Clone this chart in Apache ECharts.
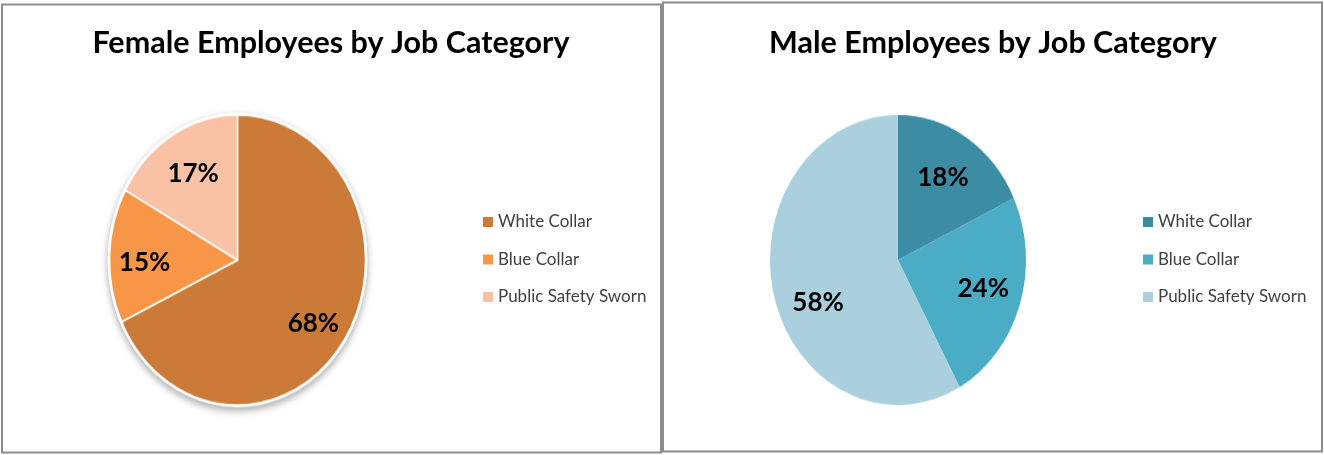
<!DOCTYPE html>
<html><head><meta charset="utf-8">
<script src="https://cdn.jsdelivr.net/npm/echarts@6/dist/echarts.min.js"></script>
<style>
html,body{margin:0;padding:0;background:#fff;}
#wrap{position:relative;width:1324px;height:455px;overflow:hidden;}
#pies,#main{position:absolute;left:0;top:0;width:1324px;height:455px;}
#pies{transform-origin:0 260px;transform:scaleY(1.133);}
</style></head><body>
<div id="wrap"><div id="pies"></div><div id="main"></div></div>
<script>
const categories = ['White Collar', 'Blue Collar', 'Public Safety Sworn'];
const femaleValues = [68, 15, 17];
const maleValues = [18, 24, 58];
const titles = ['Female Employees by Job Category', 'Male Employees by Job Category'];

const femaleColors = ['#CB7A37', '#F79646', '#FAC2A4'];
const maleColors = ['#3C8CA3', '#4BACC6', '#AACFDD'];
const FONT = 'Lato, "Open Sans", sans-serif';

const femaleCenter = [237.5, 260];
const maleCenter = [898, 260];

// ---- pie layer (stretched vertically via CSS to mimic the elliptical pies) ----
const pies = echarts.init(document.getElementById('pies'), null, {renderer: 'canvas'});
pies.setOption({
  animation: false,
  series: [
    {
      type: 'pie', silent: true, center: femaleCenter, radius: 130,
      data: [{value: 1, name: 'bg'}],
      itemStyle: {color: '#ffffff', shadowBlur: 7, shadowOffsetY: 3, shadowColor: 'rgba(0,0,0,0.35)'},
      label: {show: false}, labelLine: {show: false}
    },
    {
      type: 'pie', silent: true, center: femaleCenter, radius: 128, startAngle: 90,
      data: categories.map((n, i) => ({name: n, value: femaleValues[i], itemStyle: {color: femaleColors[i]}})),
      itemStyle: {borderColor: '#ffffff', borderWidth: 1.5},
      label: {show: false}, labelLine: {show: false}
    },
    {
      type: 'pie', silent: true, center: maleCenter, radius: 128, startAngle: 90,
      data: categories.map((n, i) => ({name: n, value: maleValues[i], itemStyle: {color: maleColors[i]}})),
      itemStyle: {borderWidth: 0},
      label: {show: false}, labelLine: {show: false}
    }
  ]
});

// ---- text layer: titles, legends, percentage labels, panel borders ----
// label nudges (style only) to follow the elliptical pie shape
const labelOffsets = {female: [[-6, 11], [4, 5], [5, -4]], male: [[-7, 0], [-7, -1], [14, 19]]};
function labelSeries(center, values, offsets) {
  return {
    type: 'pie', silent: true, center: center, radius: 188, startAngle: 90,
    data: categories.map((n, i) => ({name: n, value: values[i], label: {offset: offsets[i]}})),
    itemStyle: {color: 'rgba(0,0,0,0)'},
    label: {
      show: true, position: 'inside', formatter: p => p.value + '%',
      fontFamily: FONT, fontWeight: 'bold', fontSize: 26, color: '#000'
    },
    labelLine: {show: false}
  };
}
function legend(left, colors) {
  return {
    orient: 'vertical', left: left, top: 212, padding: 0,
    icon: 'rect', itemWidth: 10, itemHeight: 10, itemGap: 17.5,
    selectedMode: false,
    textStyle: {fontFamily: FONT, fontSize: 17, lineHeight: 20, color: '#404040'},
    data: categories.map((n, i) => ({name: n, itemStyle: {color: colors[i], opacity: 1, borderWidth: 0}}))
  };
}
const main = echarts.init(document.getElementById('main'), null, {renderer: 'canvas'});
main.setOption({
  animation: false,
  title: [
    {text: titles[0], left: 331, top: 28, textAlign: 'center', padding: 0,
     textStyle: {fontFamily: FONT, fontWeight: 'bold', fontSize: 30.5, color: '#000'}},
    {text: titles[1], left: 993, top: 28, textAlign: 'center', padding: 0,
     textStyle: {fontFamily: FONT, fontWeight: 'bold', fontSize: 30.5, color: '#000'}}
  ],
  legend: [legend(483, femaleColors), legend(1143, maleColors)],
  graphic: [
    {type: 'rect', shape: {x: 2, y: 4.5, width: 659, height: 448}, style: {fill: 'none', stroke: '#8c8c8c', lineWidth: 2}, silent: true},
    {type: 'rect', shape: {x: 663, y: 2.5, width: 659, height: 449}, style: {fill: 'none', stroke: '#8c8c8c', lineWidth: 2}, silent: true}
  ],
  series: [
    labelSeries([237.5, 261], femaleValues, labelOffsets.female),
    labelSeries([898, 259.5], maleValues, labelOffsets.male)
  ]
});
</script>
</body></html>
